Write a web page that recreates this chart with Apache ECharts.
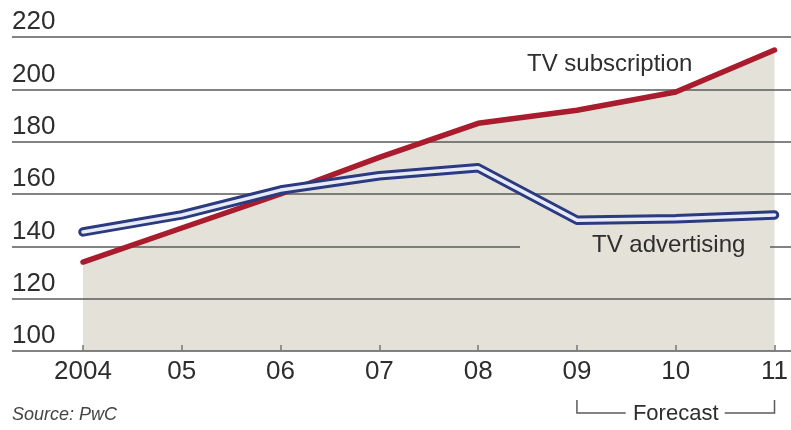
<!DOCTYPE html>
<html>
<head>
<meta charset="utf-8">
<script src="https://cdn.jsdelivr.net/npm/echarts@6/dist/echarts.min.js"></script>
<style>
  html, body { margin: 0; padding: 0; background: #ffffff; }
  #chart { width: 791px; height: 430px; }
</style>
</head>
<body>
<div id="chart"></div>
<script>
// Years on the horizontal axis
const years = ['2004', '05', '06', '07', '08', '09', '10', '11'];
// Global TV revenue by stream
const tvSubscription = [134, 147, 160, 174, 187, 192, 199, 215];
const tvAdvertising = [145.5, 152, 161.5, 167, 170, 150, 150.5, 152];
// Value scale
const yMin = 100;
const yMax = 220;
const yStep = 20;
// Projected span
const forecastStart = '09';
const forecastEnd = '11';

const FONT = '"Liberation Sans", Arial, sans-serif';
const BEIGE = '#e4e1d9';
const GRID_LINE = '#5a5a5a';
const TEXT = '#2e2e2e';

const chart = echarts.init(document.getElementById('chart'), null, { renderer: 'canvas' });

const option = {
  animation: false,
  backgroundColor: '#ffffff',
  grid: [
    // plotting area for the series
    { left: 83, right: 11, top: 37, bottom: 79 },
    // full-width frame carrying the horizontal rules and value labels
    { left: 12, right: 0, top: 37, bottom: 79 }
  ],
  xAxis: [
    {
      type: 'category',
      gridIndex: 0,
      data: years,
      boundaryGap: false,
      axisLine: { show: false },
      axisTick: { show: true, inside: true, length: 6, alignWithLabel: true,
                  lineStyle: { color: '#777', width: 1.5 } },
      axisLabel: { color: TEXT, fontFamily: FONT, fontSize: 26, margin: 8 },
      splitLine: { show: false }
    },
    {
      type: 'value',
      gridIndex: 1,
      min: 0,
      max: 1,
      show: false
    }
  ],
  yAxis: [
    {
      type: 'value',
      gridIndex: 0,
      min: yMin,
      max: yMax,
      interval: yStep,
      show: false
    },
    {
      type: 'value',
      gridIndex: 1,
      min: yMin,
      max: yMax,
      interval: yStep,
      axisLine: { show: false },
      axisTick: { show: false },
      axisLabel: {
        inside: true,
        margin: 0,
        align: 'left',
        verticalAlign: 'bottom',
        color: TEXT,
        fontFamily: FONT,
        fontSize: 26,
        lineHeight: 26,
        padding: [0, 0, 2, 0]
      },
      splitLine: { show: true, lineStyle: { color: GRID_LINE, width: 1.5 } }
    }
  ],
  series: [
    {
      // shaded area beneath the subscription curve
      name: 'subscription area',
      type: 'line',
      xAxisIndex: 0,
      yAxisIndex: 0,
      data: tvSubscription,
      symbol: 'none',
      lineStyle: { width: 0, opacity: 0 },
      areaStyle: { color: BEIGE, opacity: 1, origin: 'start' },
      z: -1,
      silent: true
    },
    {
      name: 'TV subscription',
      type: 'line',
      xAxisIndex: 0,
      yAxisIndex: 0,
      data: tvSubscription,
      symbol: 'none',
      lineStyle: { color: '#a81c2d', width: 5.5, cap: 'round', join: 'round' },
      z: 3
    },
    {
      // outer dark stroke of the cased advertising line
      name: 'TV advertising',
      type: 'line',
      xAxisIndex: 0,
      yAxisIndex: 0,
      data: tvAdvertising,
      symbol: 'none',
      lineStyle: { color: '#2c3a80', width: 9.5, cap: 'round', join: 'round' },
      z: 4
    },
    {
      // light core of the cased advertising line
      name: 'TV advertising core',
      type: 'line',
      xAxisIndex: 0,
      yAxisIndex: 0,
      data: tvAdvertising,
      symbol: 'none',
      lineStyle: { color: '#e6ebf7', width: 3.5, cap: 'round', join: 'round' },
      z: 5
    }
  ]
};

chart.setOption(option);

// Annotations: series names, source note and the forecast bracket
const x09 = chart.convertToPixel({ xAxisIndex: 0 }, forecastStart);
const x11 = chart.convertToPixel({ xAxisIndex: 0 }, forecastEnd);
const midX = (x09 + x11) / 2;
const bracketTop = 400;
const bracketY = 413;

chart.setOption({
  graphic: [
    {
      type: 'rect',
      z: 6,
      shape: { x: 520, y: 240, width: 250, height: 12 },
      style: { fill: BEIGE },
      silent: true
    },
    {
      type: 'text',
      z: 7,
      x: 527,
      y: 64,
      style: { text: 'TV subscription', font: '24px ' + FONT, fill: TEXT,
               align: 'left', verticalAlign: 'middle' }
    },
    {
      type: 'text',
      z: 7,
      x: 592,
      y: 245,
      style: { text: 'TV advertising', font: '24px ' + FONT, fill: TEXT,
               align: 'left', verticalAlign: 'middle' }
    },
    {
      type: 'text',
      z: 7,
      x: 12,
      y: 415,
      style: { text: 'Source: PwC', font: 'italic 18px ' + FONT, fill: '#444',
               align: 'left', verticalAlign: 'middle' }
    },
    {
      type: 'text',
      z: 7,
      x: midX,
      y: 414,
      style: { text: 'Forecast', font: '22px ' + FONT, fill: TEXT,
               align: 'center', verticalAlign: 'middle' }
    },
    {
      type: 'polyline',
      z: 7,
      shape: { points: [[x09, bracketTop], [x09, bracketY], [midX - 50, bracketY]] },
      style: { stroke: GRID_LINE, lineWidth: 1.5, fill: null }
    },
    {
      type: 'polyline',
      z: 7,
      shape: { points: [[midX + 49, bracketY], [x11, bracketY], [x11, bracketTop]] },
      style: { stroke: GRID_LINE, lineWidth: 1.5, fill: null }
    }
  ]
});
</script>
</body>
</html>
